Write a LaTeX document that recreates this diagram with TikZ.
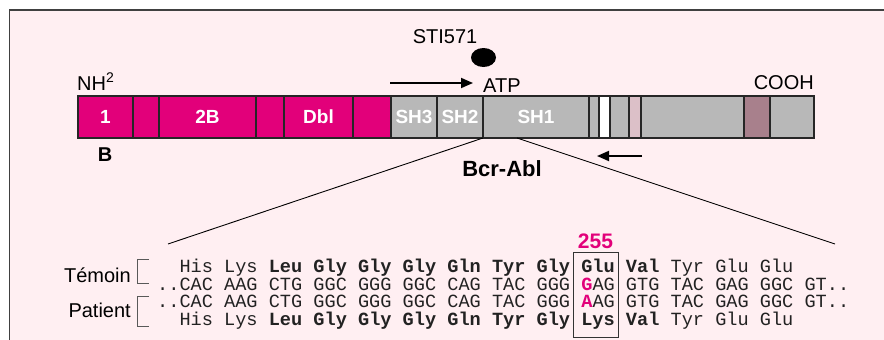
\documentclass[tikz,border=0pt]{standalone}
\usepackage{fontspec}
\setmainfont{Liberation Sans}
\setmonofont{Liberation Mono}
\usetikzlibrary{arrows.meta,positioning,shapes.geometric}

\definecolor{bgpink}{HTML}{FFEFF2}
\definecolor{bcrmag}{HTML}{E2007A}
\definecolor{ablgray}{HTML}{B8B8B8}
\definecolor{ablrose}{HTML}{DCC0C8}
\definecolor{ablmauve}{HTML}{A8808C}
\definecolor{seqtext}{HTML}{222222}

\newcommand{\mut}[1]{\textcolor{bcrmag}{\bfseries #1}}

\tikzset{
  seg/.style={draw=black!85, line width=1.2pt, minimum height=42pt, inner sep=0pt,
              outer sep=0pt, text=white, font=\bfseries\fontsize{19}{20}\selectfont},
  lab/.style={inner sep=0pt, font=\fontsize{20}{22}\selectfont},
  seqrow/.style={inner sep=0pt, anchor=base west, text=seqtext,
                 font=\ttfamily\fontsize{18.6}{20}\selectfont},
  brack/.style={draw=black!65, line width=0.8pt},
  pointer/.style={line width=1.8pt, -{Triangle[length=12pt,width=10pt]}},
}

\begin{document}
\begin{tikzpicture}[x=1pt,y=-1pt]
  \useasboundingbox (0,0) rectangle (884,340);
  \clip (0,0) rectangle (884,340);
  \draw[fill=bgpink, draw=black!75, line width=1.5pt] (9.5,10) rectangle (900,360);

  % the Bcr-Abl bar
  \foreach \xa/\xb/\col/\lab/\nm in {78/133/bcrmag/1/b1, 133/159/bcrmag//b2,
      159/256/bcrmag/2B/b3, 256/284/bcrmag//b4, 284/353/bcrmag/Dbl/b5,
      353/391/bcrmag//b6, 391/437/ablgray/SH3/sh3, 437/483/ablgray/SH2/sh2,
      483/589/ablgray/SH1/sh1, 589/599/ablgray//a1, 599/610/white//a2,
      610/629/ablgray//a3, 629/641/ablrose//a4, 641/744/ablgray//a5,
      744/770/ablmauve//a6, 770/814/ablgray//a7}
    \node[seg, fill=\col, minimum width={(\xb-\xa)*1pt}] (\nm) at ({(\xa+\xb)/2},117) {\lab};

  \node[lab, anchor=base west] (nh) at (77,90) {NH\textsuperscript{2}};
  \node[lab, anchor=base east] (cooh) at (814,89) {COOH};
  \node[lab, anchor=base west] (atp) at (483,92) {ATP};
  \node[lab, anchor=base] (sti) at (445,43) {STI571};
  \node[fill=black, ellipse, minimum width=25pt, minimum height=19pt, inner sep=0pt] (drug) at (483.5,57.5) {};
  \node[lab, anchor=base, font=\bfseries\fontsize{20}{22}\selectfont] (bdom) at (105,161) {B};
  \node[lab, anchor=base, font=\bfseries\fontsize{22}{24}\selectfont] (bcrabl) at (502,176) {Bcr-Abl};

  % primers
  \coordinate (fwd) at (390,83);
  \coordinate (fwdend) at (473,83);
  \coordinate (rev) at (642,156);
  \coordinate (revend) at (597,156);
  \draw[pointer] (fwd) -- (fwdend);
  \draw[pointer] (rev) -- (revend);

  % zoom on the sequence
  \coordinate (zoomL) at (168,244);
  \coordinate (zoomR) at (835,244);
  \draw[line width=0.9pt] (sh1.south west) -- (zoomL);
  \draw[line width=0.9pt] ([xshift=34pt]sh1.south west) -- (zoomR);

  \node[seqrow] (r1) at (157,272) {\phantom{..}His Lys \textbf{Leu Gly Gly Gly Gln Tyr Gly Glu Val} Tyr Glu Glu};
  \node[seqrow] (r2) at (157,290) {..CAC AAG CTG GGC GGG GGC CAG TAC GGG \mut{G}AG GTG TAC GAG GGC GT..};
  \node[seqrow] (r3) at (157,307) {..CAC AAG CTG GGC GGG GGC CAG TAC GGG \mut{A}AG GTG TAC GAG GGC GT..};
  \node[seqrow] (r4) at (157,325) {\phantom{..}His Lys \textbf{Leu Gly Gly Gly Gln Tyr Gly Lys Val} Tyr Glu Glu};

  \node[draw=black!80, line width=1pt, minimum width=45pt, minimum height=85pt, inner sep=0pt] (codon) at (595.5,294.5) {};
  \node[lab, above=3pt of codon, text=bcrmag, font=\bfseries\fontsize{21}{22}\selectfont] (pos) {255};

  \node[lab, anchor=base east] (temoin) at (131,282) {Témoin};
  \node[lab, anchor=base east] (patient) at (131,317) {Patient};
  \draw[brack] (149,259) -- (137,259) -- (137,283) -- (149,283);
  \draw[brack] (149,296) -- (137,296) -- (137,326) -- (149,326);
\end{tikzpicture}
\end{document}
